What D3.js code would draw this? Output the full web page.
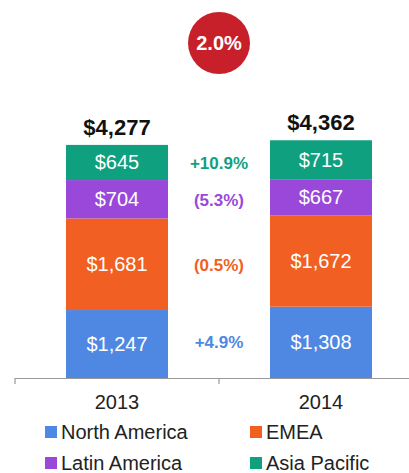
<!DOCTYPE html>
<html>
<head>
<meta charset="utf-8">
<script src="https://cdn.jsdelivr.net/npm/d3@7/dist/d3.min.js"></script>
<style>
  html, body { margin: 0; padding: 0; background: #fff; }
  svg { display: block; font-family: "Liberation Sans", Arial, sans-serif; }
</style>
</head>
<body>
<svg id="chart" width="409" height="473"></svg>
<script>
const years = ["2013", "2014"];
const regions = ["North America", "EMEA", "Latin America", "Asia Pacific"];
const northAmerica = [1247, 1308];
const emea = [1681, 1672];
const latinAmerica = [704, 667];
const asiaPacific = [645, 715];
const totals = ["$4,277", "$4,362"];
const changes = ["+4.9%", "(0.5%)", "(5.3%)", "+10.9%"];
const totalGrowth = "2.0%";
const colors = ["#4F88E2", "#F15F22", "#9A48DA", "#0FA07F"];

const seriesValues = [northAmerica, emea, latinAmerica, asiaPacific];
const rows = years.map((yr, i) => {
  const r = { year: yr };
  regions.forEach((k, j) => r[k] = seriesValues[j][i]);
  return r;
});
const stacked = d3.stack().keys(regions)(rows);

const svg = d3.select("#chart");
const x = d3.scaleBand().domain(years).range([15, 423]).paddingInner(0.5).paddingOuter(0.25);
const y = d3.scaleLinear().domain([0, 5000]).range([378, 105.5]);
const color = d3.scaleOrdinal().domain(regions).range(colors);
const fmt = d3.format("$,");

// bars
const layers = svg.append("g").selectAll("g").data(stacked).join("g")
  .attr("fill", d => color(d.key));
layers.selectAll("rect").data(d => d).join("rect")
  .attr("x", d => x(d.data.year))
  .attr("width", x.bandwidth())
  .attr("y", d => y(d[1]))
  .attr("height", d => y(d[0]) - y(d[1]));

// segment labels
layers.selectAll("text").data(d => d).join("text")
  .attr("x", d => x(d.data.year) + x.bandwidth() / 2)
  .attr("y", d => (y(d[0]) + y(d[1])) / 2)
  .attr("text-anchor", "middle")
  .attr("dominant-baseline", "central")
  .attr("fill", "#fff")
  .attr("font-size", 20)
  .text(d => fmt(d[1] - d[0]));

// change labels between bars
const midX = (x(years[0]) + x.bandwidth() + x(years[1])) / 2;
svg.append("g").selectAll("text").data(stacked).join("text")
  .attr("x", midX)
  .attr("y", (d, i) => (y(d[0][0]) + y(d[0][1])) / 2 + (i === 0 ? -2 : 1))
  .attr("text-anchor", "middle")
  .attr("dominant-baseline", "central")
  .attr("font-size", 17)
  .attr("font-weight", "bold")
  .attr("fill", d => color(d.key))
  .text((d, i) => changes[i]);

// totals
const topLayer = stacked[stacked.length - 1];
svg.append("g").selectAll("text").data(topLayer).join("text")
  .attr("x", d => x(d.data.year) + x.bandwidth() / 2)
  .attr("y", d => y(d[1]) - 10)
  .attr("text-anchor", "middle")
  .attr("font-size", 22)
  .attr("font-weight", "bold")
  .attr("fill", "#111")
  .text((d, i) => totals[i]);

// growth bubble
svg.append("circle").attr("cx", midX).attr("cy", 43).attr("r", 31).attr("fill", "#C8202B");
svg.append("text").attr("x", midX).attr("y", 43)
  .attr("text-anchor", "middle").attr("dominant-baseline", "central")
  .attr("font-size", 20).attr("font-weight", "bold").attr("fill", "#fff")
  .text(totalGrowth);

// axis
const axisG = svg.append("g");
axisG.append("line").attr("x1", x.range()[0]).attr("x2", 409).attr("y1", 378.5).attr("y2", 378.5)
  .attr("stroke", "#999").attr("stroke-width", 1.2);
const bounds = [x.range()[0], midX, x.range()[1]];
axisG.selectAll("line.tick").data(bounds).join("line").attr("class", "tick")
  .attr("x1", d => d).attr("x2", d => d).attr("y1", 378).attr("y2", 384)
  .attr("stroke", "#999").attr("stroke-width", 1.2);
axisG.selectAll("text").data(years).join("text")
  .attr("x", d => x(d) + x.bandwidth() / 2)
  .attr("y", 402)
  .attr("text-anchor", "middle").attr("dominant-baseline", "central")
  .attr("font-size", 20).attr("fill", "#222")
  .text(d => d);

// legend
const legendPos = [[45, 432], [250, 432], [45, 463], [250, 463]];
const lg = svg.append("g").selectAll("g").data(regions).join("g")
  .attr("transform", (d, i) => `translate(${legendPos[i][0]},${legendPos[i][1]})`);
lg.append("rect").attr("x", 0).attr("y", -6).attr("width", 12).attr("height", 12)
  .attr("fill", d => color(d));
lg.append("text").attr("x", 16).attr("y", 0).attr("dominant-baseline", "central")
  .attr("font-size", 20).attr("fill", "#222").text(d => d);
</script>
</body>
</html>
